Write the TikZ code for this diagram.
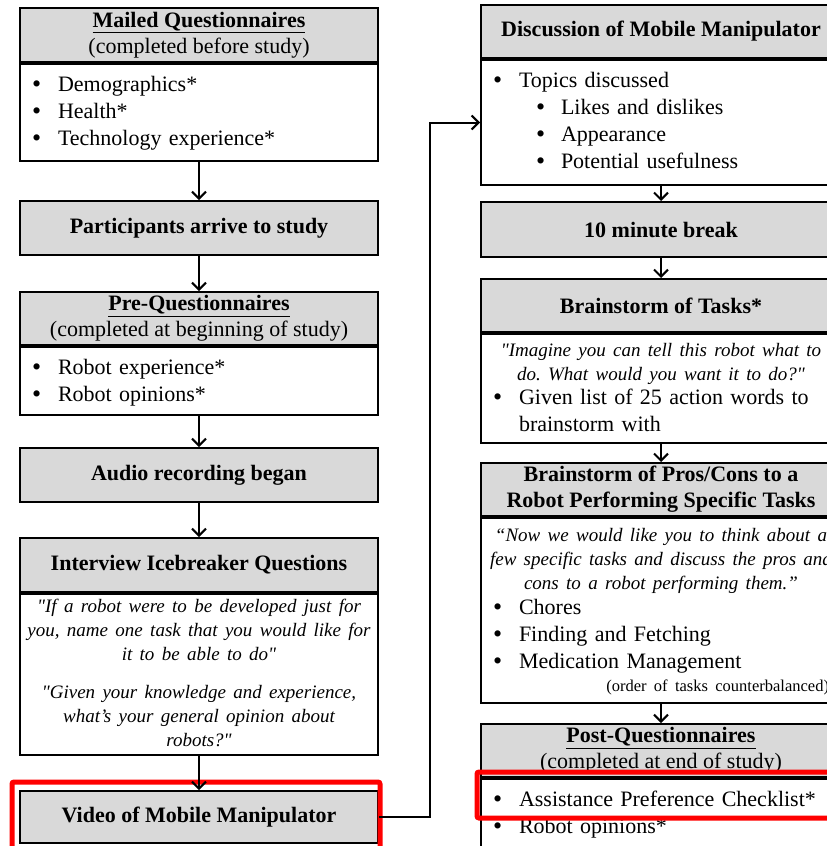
\documentclass[tikz,border=0pt]{standalone}
\usepackage{fontspec}
\setmainfont{Liberation Serif}
\usetikzlibrary{arrows.meta}
\frenchspacing
\newcommand{\dotmark}{\raisebox{-1pt}{\fontsize{26}{26}\selectfont\textbullet}}
\newcommand{\itm}[1]{\par\noindent\hangindent=26pt\hangafter=1\makebox[26pt][l]{\dotmark}#1\par}
\newcommand{\subitm}[1]{\par\noindent\hspace*{43pt}\makebox[25pt][l]{\dotmark}#1\par}
\newcommand{\quo}[1]{\par\noindent\makebox[\linewidth]{\itshape\fontsize{19}{24}\selectfont\begin{tabular}{@{}c@{}}#1\end{tabular}}\par}
\newcommand{\qq}{\textquotedbl}
\newcommand{\gap}[1]{\par\nointerlineskip\vbox to #1{}}

\begin{document}
\begin{tikzpicture}
[x=1pt,y=-1pt,>={Straight Barb[length=7pt,width=14pt]},
head/.style={rectangle,draw=black,fill=black!15,line width=2pt,inner sep=0pt,anchor=north,align=center,font=\fontsize{22}{26}\selectfont\bfseries},
lbox/.style={minimum width=358pt},
rbox/.style={minimum width=360pt},
body/.style={rectangle,draw=black,fill=white,line width=2pt,inner xsep=12pt,inner ysep=0pt,anchor=north,align=left,font=\fontsize{22}{27}\selectfont},
flow/.style={line width=2pt},
hilite/.style={draw=red,line width=5pt,rounded corners=2pt}]

\clip (0,0) rectangle (827,846);

% left column
\node at (199,7)   [head,lbox,minimum height=54pt] (mailh) {\underline{Mailed Questionnaires}\\{\mdseries (completed before study)}};
\node at (mailh.south) [body,text width=334pt,minimum height=97pt] (mailb)
  {\itm{Demographics*}\itm{Health*}\itm{Technology experience*}\gap{10pt}};
\node at (199,200) [head,lbox,minimum height=54pt] (arrive) {Participants arrive to study};
\node at (199,291) [head,lbox,minimum height=53pt] (preh) {\underline{Pre-Questionnaires}\\{\mdseries (completed at beginning of study)}};
\node at (preh.south) [body,text width=334pt,minimum height=68pt] (preb)
  {\itm{Robot experience*}\itm{Robot opinions*}\gap{9pt}};
\node at (199,447) [head,lbox,minimum height=54pt] (audio) {Audio recording began};
\node at (199,537) [head,lbox,minimum height=54pt] (interh) {Interview Icebreaker Questions};
\node at (interh.south) [body,text width=334pt,minimum height=161pt] (interb)
  {\quo{\qq If a robot were to be developed just for\\you, name one task that you would like for\\it to be able to do\qq}\vspace{13pt}
   \quo{\qq Given your knowledge and experience,\\what's your general opinion about\\robots?\qq}};
\node at (199,790) [head,lbox,minimum height=52pt] (video) {Video of Mobile Manipulator};

% right column
\node at (661,4)   [head,rbox,minimum height=53pt] (disch) {Discussion of Mobile Manipulator};
\node at (disch.south) [body,text width=336pt,minimum height=123pt] (discb)
  {\itm{Topics discussed}\subitm{Likes and dislikes}\subitm{Appearance}\subitm{Potential usefulness}\gap{16pt}};
\node at (661,201) [head,rbox,minimum height=55pt] (pause) {10 minute break};
\node at (661,278) [head,rbox,minimum height=53pt] (taskh) {Brainstorm of Tasks*};
\node at (taskh.south) [body,text width=336pt,minimum height=109pt] (taskb)
  {\quo{\qq Imagine you can tell this robot what to\\do. What would you want it to do?\qq}\itm{Given list of 25 action words to brainstorm with}\gap{6pt}};
\node at (661,462) [head,rbox,minimum height=53pt] (prosh) {Brainstorm of Pros/Cons to a\\Robot Performing Specific Tasks};
\node at (prosh.south) [body,text width=336pt,minimum height=185pt] (prosb)
  {\quo{``Now we would like you to think about a\\few specific tasks and discuss the pros and\\cons to a robot performing them.''}\vspace{2pt}
   \itm{Chores}\itm{Finding and Fetching}\itm{Medication Management}\vspace{4pt}
   {\raggedleft\fontsize{16.5}{19}\selectfont (order of tasks counterbalanced)\par}\gap{2pt}};
\node at (661,723) [head,rbox,minimum height=53pt] (posth) {\underline{Post-Questionnaires}\\{\mdseries (completed at end of study)}};
\node at (posth.south) [body,text width=336pt,minimum height=68pt] (postb)
  {\itm{Assistance Preference Checklist*}\itm{Robot opinions*}\gap{10pt}};

% highlights
\draw [hilite] (12,782) rectangle (380,870);
\draw [hilite] (477,772) rectangle (870,818);

% connectors
\draw [->,flow] (mailb) -- (arrive);
\draw [->,flow] (arrive) -- (preh);
\draw [->,flow] (preb) -- (audio);
\draw [->,flow] (audio) -- (interh);
\draw [->,flow] (interb) -- (video);
\draw [->,flow] (discb) -- (pause);
\draw [->,flow] (pause) -- (taskh);
\draw [->,flow] (taskb) -- (prosh);
\draw [->,flow] (prosb) -- (posth);
\coordinate (bend) at (430,0);
\draw [->,flow] (video.east) -- (video.east -| bend) |- (discb.west);
\end{tikzpicture}
\end{document}
